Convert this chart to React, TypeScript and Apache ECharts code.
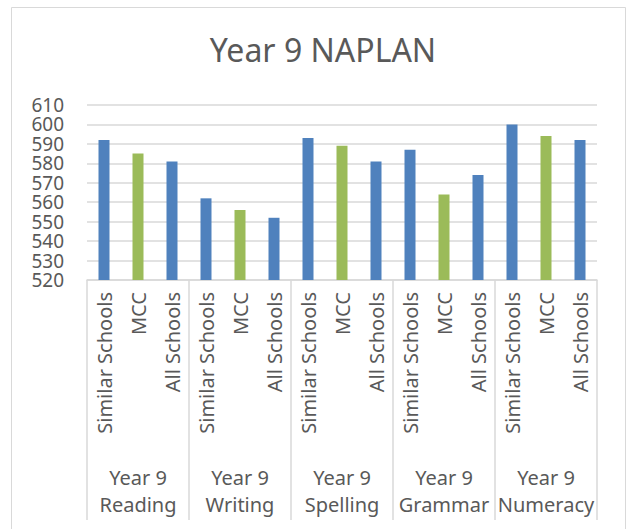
import React, { useEffect, useRef } from "react";
import * as echarts from "echarts";

const groups = ["Year 9\nReading", "Year 9\nWriting", "Year 9\nSpelling", "Year 9\nGrammar", "Year 9\nNumeracy"];
const subCats = ["Similar Schools", "MCC", "All Schools"];
const similarSchools = [592, 562, 593, 587, 600];
const mcc = [585, 556, 589, 564, 594];
const allSchools = [581, 552, 581, 574, 592];
const yTicks = [520, 530, 540, 550, 560, 570, 580, 590, 600, 610];

const BLUE = "#4F81BD";
const GREEN = "#9BBB59";

export default function App() {
  const ref = useRef<HTMLDivElement>(null);
  useEffect(() => {
    if (!ref.current) return;
    const chart = echarts.init(ref.current, undefined, { renderer: "svg" });
    const cats: string[] = [];
    const data: any[] = [];
    groups.forEach((_, i) => {
      const vals = [similarSchools[i], mcc[i], allSchools[i]];
      subCats.forEach((c, j) => {
        cats.push(c);
        data.push({ value: vals[j], itemStyle: { color: j === 1 ? GREEN : BLUE } });
      });
    });
    const font = "'Noto Sans', sans-serif";
    const yMin = yTicks[0];
    const yMax = yTicks[yTicks.length - 1];
    const yAxisBase = (parity: number, showSplit: boolean) => ({
      type: "value",
      position: "left",
      min: yMin,
      max: yMax,
      interval: 10,
      axisLine: { show: false },
      axisTick: { show: false },
      splitLine: { show: showSplit, lineStyle: { color: "#d9d9d9", width: 1.5 } },
      axisLabel: {
        margin: 23,
        fontFamily: font,
        fontSize: 19,
        lineHeight: 18,
        color: "#595959",
        showMinLabel: true,
        showMaxLabel: true,
        hideOverlap: false,
        formatter: (v: number) => {
          const idx = yTicks.indexOf(Math.round(v));
          return idx >= 0 && idx % 2 === parity ? String(yTicks[idx]) : "";
        },
      },
    });
    chart.setOption({
      animation: false,
      backgroundColor: "#ffffff",
      title: {
        text: "Year 9 NAPLAN",
        left: 318,
        textAlign: "center",
        top: 28,
        textStyle: { fontFamily: font, fontSize: 32, fontWeight: "normal", color: "#595959" },
      },
      graphic: [
        {
          type: "rect",
          shape: { x: 11.5, y: 7.5, width: 614, height: 540 },
          style: { fill: "none", stroke: "#d9d9d9", lineWidth: 1 },
          silent: true,
        },
      ],
      grid: { left: 87, right: 33, top: 105, bottom: 249, containLabel: false },
      xAxis: [
        {
          type: "category",
          data: cats,
          position: "bottom",
          axisLine: { show: true, lineStyle: { color: "#d9d9d9", width: 1.5 } },
          axisTick: { show: false },
          axisLabel: {
            interval: 0,
            rotate: 90,
            margin: 12,
            fontFamily: font,
            fontSize: 20,
            color: "#595959",
          },
        },
        {
          type: "category",
          data: groups,
          position: "bottom",
          axisLine: { show: false },
          axisTick: { show: true, length: 240, lineStyle: { color: "#d9d9d9", width: 1.5 } },
          axisLabel: {
            interval: 0,
            margin: 184,
            fontFamily: font,
            fontSize: 20,
            lineHeight: 27,
            color: "#595959",
          },
        },
      ],
      yAxis: [yAxisBase(0, true), yAxisBase(1, false)],
      series: [
        {
          type: "bar",
          xAxisIndex: 0,
          yAxisIndex: 0,
          data,
          barWidth: 11,
        },
      ],
    });
    return () => chart.dispose();
  }, []);
  return <div ref={ref} style={{ position: "absolute", left: 0, top: 0, width: 630, height: 529 }} />;
}
